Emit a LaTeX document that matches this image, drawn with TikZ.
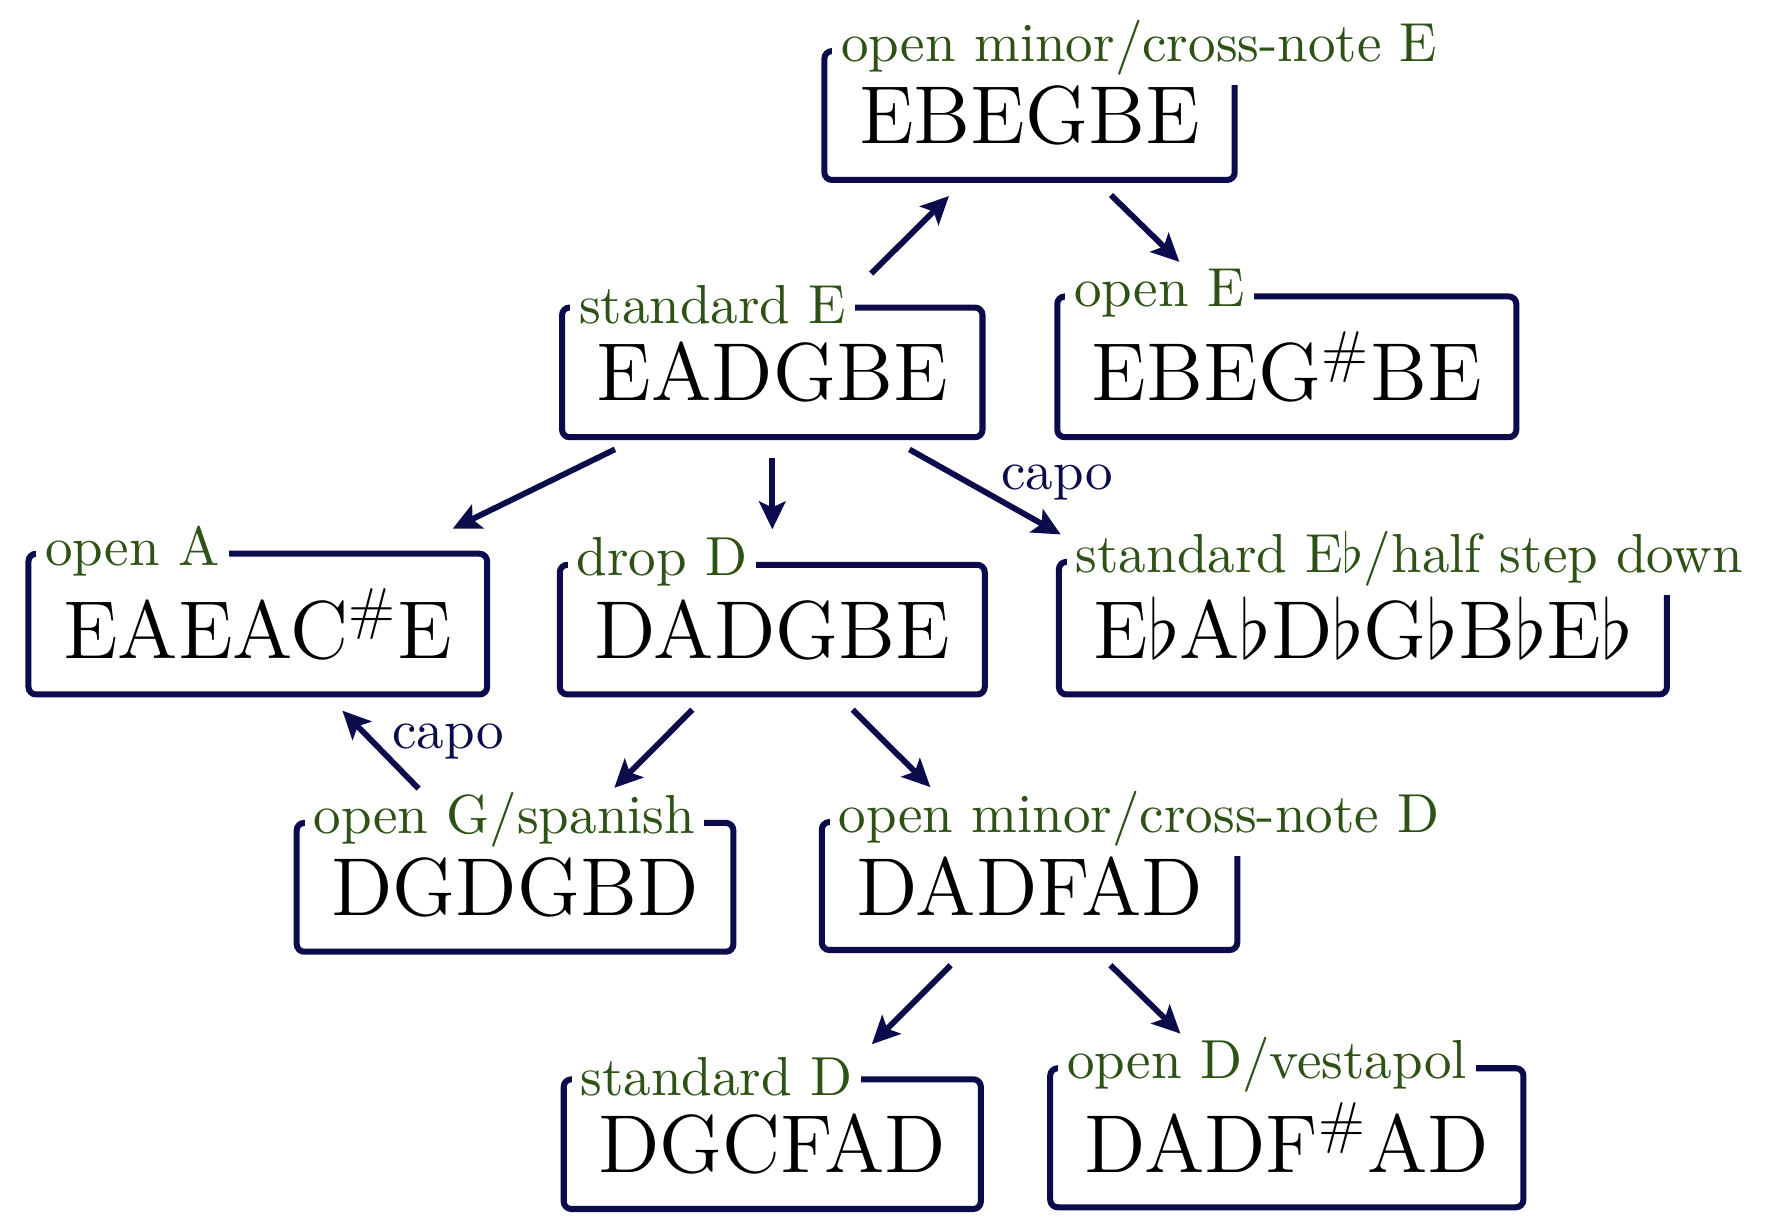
\RequirePackage{fix-cm}
\documentclass[tikz,border=0pt]{standalone}
\usetikzlibrary{arrows.meta,positioning}

\DeclareFontFamily{TU}{lmrten}{}
\DeclareFontShape{TU}{lmrten}{m}{n}{<-> \UnicodeFontFile{lmroman10-regular}{\UnicodeFontTeXLigatures}}{}
\DeclareFontFamily{TU}{lmrtwelve}{}
\DeclareFontShape{TU}{lmrtwelve}{m}{n}{<-> \UnicodeFontFile{lmroman12-regular}{\UnicodeFontTeXLigatures}}{}

\definecolor{framecol}{RGB}{12,12,76}
\definecolor{namecol}{RGB}{46,82,22}

\tikzset{
  tuning/.style={draw=framecol, line width=1.6pt, rounded corners=2pt,
                 inner sep=9.2pt,
                 font=\fontfamily{lmrtwelve}\fontsize{21.8}{26}\selectfont},
  tuningname/.style={fill=white, text=namecol, inner sep=2.4pt, anchor=west,
                     xshift=2.7pt,
                     font=\fontfamily{lmrten}\fontsize{14.6}{18}\selectfont},
  capotext/.style={text=framecol, inner sep=0pt, yshift=-1pt,
                   font=\fontfamily{lmrten}\fontsize{14.6}{18}\selectfont},
  retune/.style={->, >={Stealth[length=7.4pt,width=7pt,inset=1.6pt]},
                 draw=framecol, line width=1.55pt,
                 shorten <=4.6pt, shorten >=12pt},
  retuneback/.style={retune, shorten <=11.6pt, shorten >=4.9pt},
}

\begin{document}
\begin{tikzpicture}
  \useasboundingbox (0,0) rectangle (469.3pt,-325.7pt);

  \node (standardE)
        [tuning, anchor=base, label={[tuningname]north west:standard E}]
        at (205pt,-106.4pt)
        {EADGBE};
  \node (openMinorE)
        [tuning, above right=2.4cm and 2.4cm of standardE.base, anchor=base,
         label={[tuningname]north west:open minor/cross-note E}]
        {EBEGBE};
  \node (openE)
        [tuning, right=4.8cm of standardE.base, anchor=base,
         label={[tuningname]north west:open E}]
        {EBEG\textsuperscript{\#}BE};
  \node (dropD)
        [tuning, below=2.4cm of standardE.base, anchor=base,
         label={[tuningname]north west:drop D}]
        {DADGBE};
  \node (openA)
        [tuning, left=4.8cm of dropD.base, anchor=base,
         label={[tuningname]north west:open A}]
        {EAEAC\textsuperscript{\#}E};
  \node (halfDown)
        [tuning, right=5.51cm of dropD.base, anchor=base,
         label={[tuningname]north west:standard E$\flat$/half step down}]
        {E$\flat$A$\flat$D$\flat$G$\flat$B$\flat$E$\flat$};
  \node (openG)
        [tuning, below left=2.4cm and 2.4cm of dropD.base, anchor=base,
         label={[tuningname]north west:open G/spanish}]
        {DGDGBD};
  \node (openMinorD)
        [tuning, below right=2.4cm and 2.4cm of dropD.base, anchor=base,
         label={[tuningname]north west:open minor/cross-note D}]
        {DADFAD};
  \node (standardD)
        [tuning, below left=2.4cm and 2.4cm of openMinorD.base, anchor=base,
         label={[tuningname]north west:standard D}]
        {DGCFAD};
  \node (openD)
        [tuning, below right=2.4cm and 2.4cm of openMinorD.base, anchor=base,
         label={[tuningname]north west:open D/vestapol}]
        {DADF\textsuperscript{\#}AD};

  \draw[retuneback] (standardE) -- (openMinorE);
  \draw[retune] (openMinorE) -- (openE);
  \draw[retune, shorten <=5.5pt, shorten >=13.3pt] (standardE) -- (openA);
  \draw[retune, shorten >=8.6pt] (standardE) -- (dropD);
  \draw[retune, shorten <=5pt, shorten >=13.2pt] (standardE)
        -- node[capotext, midway, above right] {capo} (halfDown.165);
  \draw[retune] (dropD) -- (openG);
  \draw[retune] (dropD) -- (openMinorD);
  \draw[retuneback] (openG)
        -- node[capotext, midway, above right] {capo} (openA);
  \draw[retune] (openMinorD) -- (standardD);
  \draw[retune] (openMinorD) -- (openD);
\end{tikzpicture}
\end{document}
